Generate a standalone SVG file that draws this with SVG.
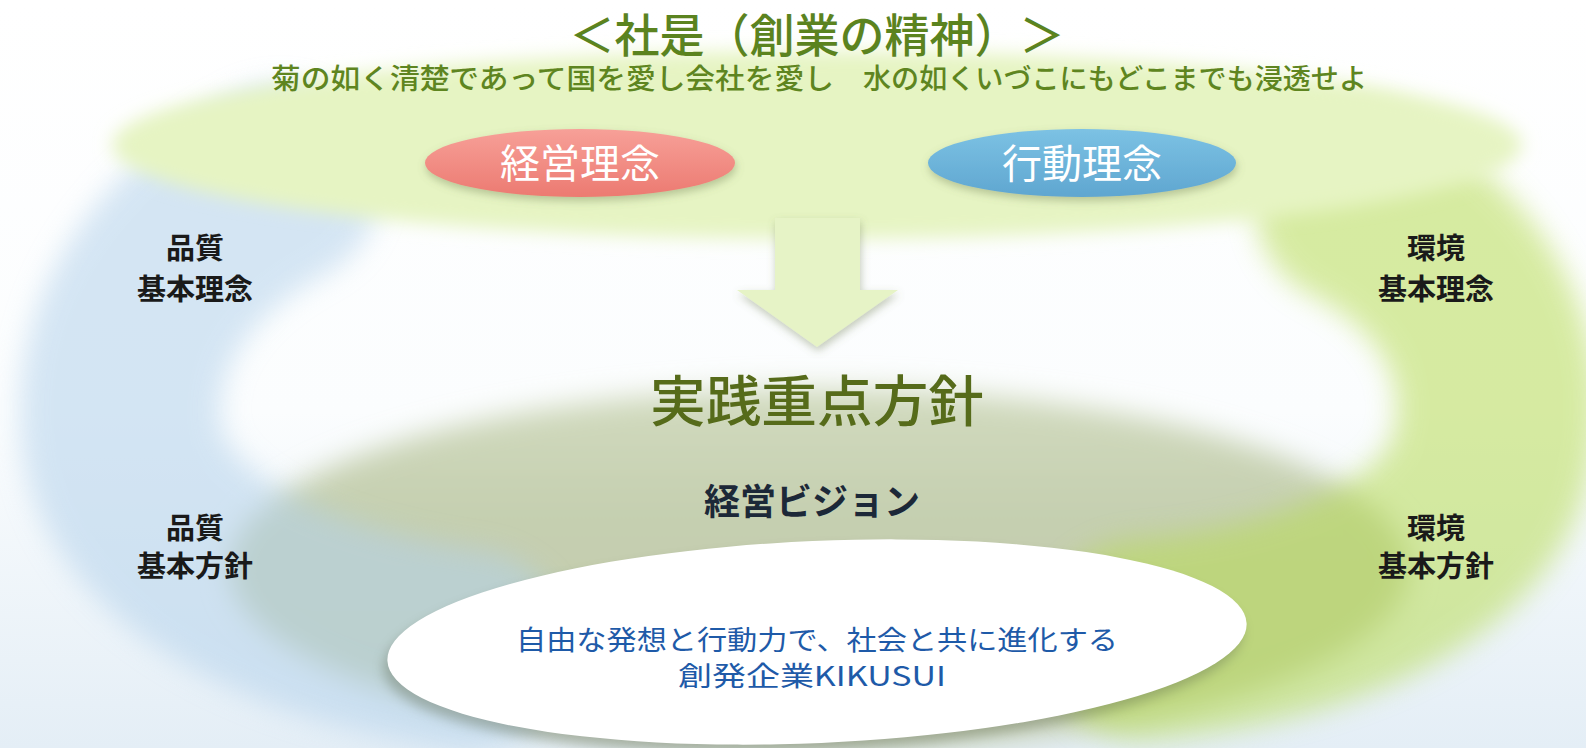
<svg xmlns="http://www.w3.org/2000/svg" width="1586" height="748" viewBox="0 0 1586 748">
<defs>
<style>
.jp{font-family:"Noto Sans CJK JP","Noto Sans CJK SC",sans-serif}
.title{font-size:46px;font-weight:500;fill:#5b831f}
.sub{font-size:28px;font-weight:500;fill:#5e8520}
.pill{font-size:40px;fill:#ffffff;text-anchor:middle}
.lbl{font-size:29px;font-weight:700;fill:#1a1a1a;text-anchor:middle}
.main{font-size:55px;font-weight:500;fill:#566b1a;text-anchor:middle}
.vis{font-size:36px;font-weight:700;fill:#1c2838;text-anchor:middle}
.blue{font-size:27px;fill:#1e5aa8;text-anchor:middle}
</style>
<linearGradient id="bg" x1="0" y1="0" x2="0" y2="1">
<stop offset="0" stop-color="#ffffff"/>
<stop offset="0.55" stop-color="#fbfdfe"/>
<stop offset="1" stop-color="#e4eef6"/>
</linearGradient>
<linearGradient id="olive" x1="0" y1="0" x2="0" y2="1">
<stop offset="0" stop-color="#d2dbbf"/>
<stop offset="0.35" stop-color="#c5cfb0"/>
<stop offset="1" stop-color="#c2ccac"/>
</linearGradient>
<linearGradient id="pink" x1="0" y1="0" x2="0" y2="1">
<stop offset="0" stop-color="#f7a098"/>
<stop offset="1" stop-color="#ec7a71"/>
</linearGradient>
<linearGradient id="blueG" x1="0" y1="0" x2="0" y2="1">
<stop offset="0" stop-color="#7cc2e4"/>
<stop offset="1" stop-color="#5fa6d0"/>
</linearGradient>
<filter id="blurL" filterUnits="userSpaceOnUse" x="-300" y="-300" width="2200" height="1400"><feGaussianBlur stdDeviation="14"/></filter>
<filter id="blurM" filterUnits="userSpaceOnUse" x="-300" y="-300" width="2200" height="1400"><feGaussianBlur stdDeviation="9"/></filter>
<filter id="blurS" filterUnits="userSpaceOnUse" x="-300" y="-300" width="2200" height="1400"><feGaussianBlur stdDeviation="6"/></filter>
<filter id="drop" x="-20%" y="-30%" width="140%" height="170%"><feDropShadow dx="1" dy="4" stdDeviation="4" flood-color="#6c7a50" flood-opacity="0.4"/></filter>
</defs>

<rect id="background" x="0" y="0" width="1586" height="748" fill="url(#bg)"/>

<g id="practice-band">
<ellipse cx="819" cy="568" rx="590" ry="180" fill="url(#olive)" filter="url(#blurL)"/>
</g>

<g id="quality-band" opacity="0.55">
<path d="M 280 185 C 175 240, 108 330, 122 440 C 138 540, 260 620, 470 650" fill="none" stroke="#b4d2eb" stroke-width="200" stroke-linecap="round" filter="url(#blurL)"/>
</g>

<g id="environment-band" opacity="0.55">
<path d="M 1355 205 C 1455 255, 1515 345, 1492 452 C 1470 560, 1320 625, 1140 640" fill="none" stroke="#b8dc56" stroke-width="200" stroke-linecap="round" filter="url(#blurL)"/>
</g>

<g id="shaze">
<ellipse cx="817" cy="145" rx="705" ry="94" fill="#e6f4c3" filter="url(#blurM)"/>
<text class="jp title" x="817" y="52" text-anchor="middle" textLength="495" lengthAdjust="spacingAndGlyphs">＜社是（創業の精神）＞</text>
<text class="jp sub" x="271" y="89" textLength="563" lengthAdjust="spacingAndGlyphs">菊の如く清楚であって国を愛し会社を愛し</text>
<text class="jp sub" x="863" y="89" textLength="504" lengthAdjust="spacingAndGlyphs">水の如くいづこにもどこまでも浸透せよ</text>
</g>

<g id="keiei-rinen">
<ellipse cx="580" cy="163" rx="155" ry="34" fill="url(#pink)" filter="url(#drop)"/>
<text class="jp pill" x="580" y="178">経営理念</text>
</g>

<g id="kodo-rinen">
<ellipse cx="1082" cy="163" rx="154" ry="34" fill="url(#blueG)" filter="url(#drop)"/>
<text class="jp pill" x="1082" y="178">行動理念</text>
</g>

<g id="connectors">
<path d="M 775 218 L 860 218 L 860 290 L 898 290 L 817 347 L 737 290 L 775 290 Z" fill="#e6f3c6" filter="url(#drop)"/>
</g>

<g id="quality-rinen">
<text class="jp lbl" x="195" y="259">品質</text>
<text class="jp lbl" x="195" y="300">基本理念</text>
</g>
<g id="quality-hoshin">
<text class="jp lbl" x="195" y="539">品質</text>
<text class="jp lbl" x="195" y="577">基本方針</text>
</g>
<g id="env-rinen">
<text class="jp lbl" x="1436" y="259">環境</text>
<text class="jp lbl" x="1436" y="300">基本理念</text>
</g>
<g id="env-hoshin">
<text class="jp lbl" x="1436" y="539">環境</text>
<text class="jp lbl" x="1436" y="577">基本方針</text>
</g>

<g id="practice">
<text class="jp main" x="817" y="421" textLength="334" lengthAdjust="spacingAndGlyphs">実践重点方針</text>
<text class="jp vis" x="812" y="515">経営ビジョン</text>
</g>

<g id="vision">
<ellipse cx="813" cy="650" rx="430" ry="101" transform="rotate(-2.5 813 650)" fill="#55604a" opacity="0.35" filter="url(#blurS)"/>
<ellipse cx="817" cy="642" rx="430" ry="101" transform="rotate(-2.5 817 642)" fill="#ffffff"/>
<text class="jp blue" x="817" y="650" textLength="602" lengthAdjust="spacingAndGlyphs">自由な発想と行動力で、社会と共に進化する</text>
<text class="jp blue" x="812" y="686" textLength="268" lengthAdjust="spacingAndGlyphs">創発企業KIKUSUI</text>
</g>
</svg>
